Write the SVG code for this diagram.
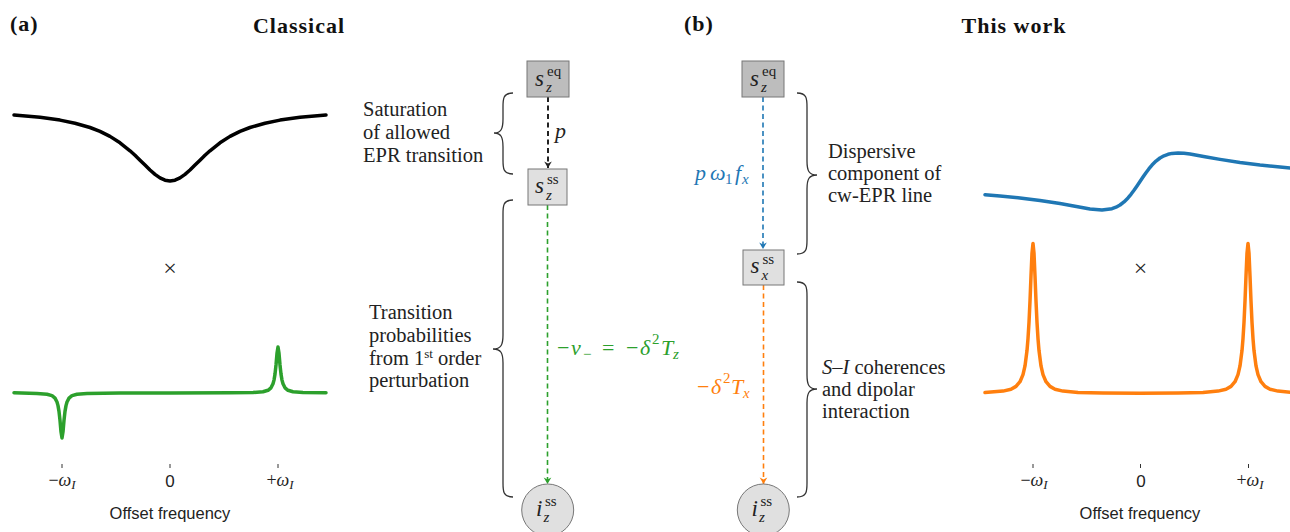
<svg xmlns="http://www.w3.org/2000/svg" width="1290" height="532" viewBox="0 0 1290 532">
  <style>
    text { font-family: "Liberation Serif", "Times New Roman", serif; fill: #222; }
    .title { font-size: 22px; font-weight: bold; letter-spacing: 1px; fill: #111; }
    .note { font-size: 20.5px; }
    .it { font-style: italic; }
    .sans { font-family: "Liberation Sans", Arial, sans-serif; }
    .tick { stroke: #333; stroke-width: 1; }
    .box-dark { fill: #bdbdbd; stroke: #777; stroke-width: 1; }
    .box-light { fill: #e0e0e0; stroke: #777; stroke-width: 1; }
    .brace { fill: none; stroke: #333; stroke-width: 1.3; }
    .curve { fill: none; stroke-width: 3.5; stroke-linejoin: round; stroke-linecap: round; }
    .conn { fill: none; stroke-dasharray: 5 3.5; }
    .lbl { font-size: 22px; }
  </style>
  <defs>
    <marker id="ah-black" markerUnits="userSpaceOnUse" markerWidth="10" markerHeight="10" viewBox="-7 -5 8 10" refX="0" refY="0" orient="auto">
      <path d="M0,0 L-6.5,-3.8 L-4.6,0 L-6.5,3.8 Z" fill="#222"/>
    </marker>
    <marker id="ah-green" markerUnits="userSpaceOnUse" markerWidth="10" markerHeight="10" viewBox="-7 -5 8 10" refX="0" refY="0" orient="auto">
      <path d="M0,0 L-6.5,-3.8 L-4.6,0 L-6.5,3.8 Z" fill="#2ca02c"/>
    </marker>
    <marker id="ah-blue" markerUnits="userSpaceOnUse" markerWidth="10" markerHeight="10" viewBox="-7 -5 8 10" refX="0" refY="0" orient="auto">
      <path d="M0,0 L-6.5,-3.8 L-4.6,0 L-6.5,3.8 Z" fill="#1f77b4"/>
    </marker>
    <marker id="ah-orange" markerUnits="userSpaceOnUse" markerWidth="10" markerHeight="10" viewBox="-7 -5 8 10" refX="0" refY="0" orient="auto">
      <path d="M0,0 L-6.5,-3.8 L-4.6,0 L-6.5,3.8 Z" fill="#ff7f0e"/>
    </marker>
  </defs>

  <rect width="1290" height="532" fill="#fff"/>

  <!-- panel titles -->
  <text class="title" x="10" y="31">(a)</text>
  <text class="title" x="299" y="33" text-anchor="middle">Classical</text>
  <text class="title" x="684" y="31">(b)</text>
  <text class="title" x="1014" y="33" text-anchor="middle">This work</text>

  <!-- left spectra: saturated EPR line times forbidden-transition lines -->
  <g id="plot-classical">
    <polyline class="curve" stroke="#000" stroke-width="3.2" points="14,115.0 40,117.3 60,120.1 75,123.2 90,127.5 100,131.4 110,136.4 120,142.8 130,150.8 135,155.3 140,160.2 145,165.1 150,170.0 155,174.3 160,177.9 165,180.2 170,181 175,180.2 180,177.9 185,174.3 190,170.0 195,165.1 200,160.2 205,155.3 210,150.8 220,142.8 230,136.4 240,131.4 250,127.5 265,123.2 280,120.1 300,117.3 326,115.0"/>
    <text x="170" y="276" text-anchor="middle" font-size="24">×</text>
    <polyline class="curve" stroke="#2ca02c" points="14,392.8 37,393.4 47,394.2 52,395.6 55,398.1 57,402 58,405.6 59,411.4 60,420.4 61,431.8 62,438 63,431.8 64,420.4 65,411.4 66,405.6 67,402 69,398.1 72,395.6 77,394.2 87,393.4 120,393.1 170,393 230,392.8 253,392.5 263,391.8 268,390.3 271,387.8 273,383.8 274,380.1 275,374.1 276,365 277,353.3 278,347 279,353.3 280,365 281,374.1 282,380.1 283,383.8 285,387.8 288,390.3 293,391.8 303,392.5 326,392.8"/>
    <line class="tick" x1="62" y1="464" x2="62" y2="468"/>
    <line class="tick" x1="170" y1="464" x2="170" y2="468"/>
    <line class="tick" x1="278" y1="464" x2="278" y2="468"/>
    <text x="62" y="486" text-anchor="middle" font-size="18">−<tspan class="it">ω</tspan><tspan class="it" font-size="13" dy="3">I</tspan></text>
    <text class="sans" x="170" y="487" text-anchor="middle" font-size="17">0</text>
    <text x="280" y="486" text-anchor="middle" font-size="18">+<tspan class="it">ω</tspan><tspan class="it" font-size="13" dy="3">I</tspan></text>
    <text class="sans" x="170" y="519" text-anchor="middle" font-size="16.5">Offset frequency</text>
  </g>

  <!-- right spectra: dispersive EPR line times S-I coherence lines -->
  <g id="plot-this-work">
    <polyline class="curve" stroke="#1f77b4" points="985,194.7 1000,195.9 1020,197.9 1040,200.4 1060,203.6 1075,206.3 1090,209.0 1102,210 1112,208.7 1116,207.2 1120,205.0 1124,201.9 1128,197.9 1131,194.3 1134,190.3 1137,186.0 1140,181.5 1143,177.0 1146,172.7 1149,168.7 1152,165.1 1156,161.1 1160,158.0 1164,155.8 1168,154.3 1172,153.4 1178,153.0 1184,153.3 1190,154.0 1205,156.7 1220,159.4 1240,162.6 1260,165.1 1280,167.1 1295,168.3"/>
    <text x="1140.5" y="276" text-anchor="middle" font-size="24">×</text>
    <polyline class="curve" stroke="#ff7f0e" points="985,392.6 1003,391.1 1011,389.2 1016,386.4 1020,381.7 1023,374.6 1025,365.9 1027,350.6 1028,338.6 1029,322.3 1030,301.1 1031,276.0 1032,253.2 1033,243.5 1034,253.2 1035,276.0 1036,301.1 1037,322.3 1038,338.6 1039,350.6 1041,365.9 1043,374.6 1046,381.7 1050,386.4 1055,389.2 1063,391.1 1078,392.4 1103,393.0 1140,393.2 1178,393.0 1203,392.4 1218,391.1 1226,389.2 1231,386.4 1235,381.7 1238,374.6 1240,365.9 1242,350.6 1243,338.6 1244,322.3 1245,301.1 1246,276.0 1247,253.2 1248,243.5 1249,253.2 1250,276.0 1251,301.1 1252,322.3 1253,338.6 1254,350.6 1256,365.9 1258,374.6 1261,381.7 1265,386.4 1270,389.2 1278,391.1 1295,392.6"/>
    <line class="tick" x1="1033" y1="464" x2="1033" y2="468"/>
    <line class="tick" x1="1140.5" y1="464" x2="1140.5" y2="468"/>
    <line class="tick" x1="1248.5" y1="464" x2="1248.5" y2="468"/>
    <text x="1034" y="486" text-anchor="middle" font-size="18">−<tspan class="it">ω</tspan><tspan class="it" font-size="13" dy="3">I</tspan></text>
    <text class="sans" x="1141" y="487" text-anchor="middle" font-size="17">0</text>
    <text x="1250" y="486" text-anchor="middle" font-size="18">+<tspan class="it">ω</tspan><tspan class="it" font-size="13" dy="3">I</tspan></text>
    <text class="sans" x="1140" y="519" text-anchor="middle" font-size="16.5">Offset frequency</text>
  </g>

  <!-- connectors -->
  <g id="connectors">
    <line class="conn" x1="548" y1="97" x2="548" y2="168" stroke="#222" stroke-width="2" marker-end="url(#ah-black)"/>
    <line class="conn" x1="547.5" y1="205" x2="547.5" y2="484" stroke="#2ca02c" stroke-width="1.6" marker-end="url(#ah-green)"/>
    <line class="conn" x1="763" y1="97" x2="763" y2="249" stroke="#1f77b4" stroke-width="1.6" marker-end="url(#ah-blue)"/>
    <line class="conn" x1="763.5" y1="285" x2="763.5" y2="484" stroke="#ff7f0e" stroke-width="1.6" marker-end="url(#ah-orange)"/>

    <text class="it lbl" x="555" y="138">p</text>
    <text class="lbl" style="fill:#2ca02c">
      <tspan x="557" y="355">−</tspan><tspan class="it" x="571" y="355">v</tspan><tspan x="583" y="359" font-size="15">−</tspan><tspan x="602" y="355">=</tspan><tspan x="626" y="355">−</tspan><tspan class="it" x="640" y="355">δ</tspan><tspan x="652" y="344" font-size="15">2</tspan><tspan class="it" x="661" y="355">T</tspan><tspan class="it" x="673" y="359" font-size="15">z</tspan>
    </text>
    <text class="lbl" style="fill:#1f77b4">
      <tspan class="it" x="695" y="180">p</tspan><tspan class="it" x="710" y="180">ω</tspan><tspan x="725" y="184" font-size="15">1</tspan><tspan class="it" x="735" y="180">f</tspan><tspan class="it" x="742" y="184" font-size="15">x</tspan>
    </text>
    <text class="lbl" style="fill:#ff7f0e">
      <tspan x="697" y="394">−</tspan><tspan class="it" x="711" y="394">δ</tspan><tspan x="723" y="383" font-size="15">2</tspan><tspan class="it" x="731" y="394">T</tspan><tspan class="it" x="743" y="398" font-size="15">x</tspan>
    </text>
  </g>

  <!-- braces and their annotations -->
  <g id="brace-saturation">
    <path class="brace" d="M513,93 C503,93 503,99 503,107 L503,119 C503,129 501,133 494,133 C501,133 503,137 503,147 L503,160 C503,168 503,174 513,174"/>
    <text class="note" x="363" y="116">Saturation</text>
    <text class="note" x="363" y="139">of allowed</text>
    <text class="note" x="363" y="162">EPR transition</text>
  </g>
  <g id="brace-transition">
    <path class="brace" d="M513,200 C503,200 503,206 503,214 L503,335 C503,345 501,349 493,349 C501,349 503,353 503,363 L503,483 C503,491 503,497 513,497"/>
    <text class="note" x="369" y="319">Transition</text>
    <text class="note" x="369" y="342">probabilities</text>
    <text class="note" x="369" y="365">from 1<tspan font-size="13" dy="-7">st</tspan><tspan dy="7"> order</tspan></text>
    <text class="note" x="369" y="387">perturbation</text>
  </g>
  <g id="brace-dispersive">
    <path class="brace" d="M797,93 C807,93 807,99 807,107 L807,161 C807,171 809,175 817,175 C809,175 807,179 807,189 L807,240 C807,248 807,254 797,254"/>
    <text class="note" x="828" y="158">Dispersive</text>
    <text class="note" x="828" y="180">component of</text>
    <text class="note" x="828" y="202">cw-EPR line</text>
  </g>
  <g id="brace-coherence">
    <path class="brace" d="M797,282 C807,282 807,288 807,296 L807,375 C807,385 809,389 817,389 C809,389 807,393 807,403 L807,483 C807,491 807,497 797,497"/>
    <text class="note" x="822" y="374"><tspan class="it">S</tspan>–<tspan class="it">I</tspan> coherences</text>
    <text class="note" x="822" y="396">and dipolar</text>
    <text class="note" x="822" y="418">interaction</text>
  </g>

  <!-- nodes, panel (a) -->
  <g id="node-sz-eq-a">
    <rect class="box-dark" x="527" y="61" width="42" height="36"/>
    <text font-size="23"><tspan class="it" x="535" y="86">s</tspan><tspan x="547" y="76" font-size="15">eq</tspan><tspan class="it" x="546" y="92" font-size="15">z</tspan></text>
  </g>
  <g id="node-sz-ss-a">
    <rect class="box-light" x="528" y="169" width="39" height="36"/>
    <text font-size="23"><tspan class="it" x="535" y="193">s</tspan><tspan x="547" y="184" font-size="15">ss</tspan><tspan class="it" x="546" y="200" font-size="15">z</tspan></text>
  </g>
  <g id="node-iz-ss-a">
    <circle class="box-light" cx="547.7" cy="510" r="26"/>
    <text font-size="23"><tspan class="it" x="536" y="516">i</tspan><tspan x="545" y="506" font-size="15">ss</tspan><tspan class="it" x="543.5" y="522" font-size="15">z</tspan></text>
  </g>

  <!-- nodes, panel (b) -->
  <g id="node-sz-eq-b">
    <rect class="box-dark" x="742" y="61" width="42" height="36"/>
    <text font-size="23"><tspan class="it" x="750" y="86">s</tspan><tspan x="762" y="76" font-size="15">eq</tspan><tspan class="it" x="761" y="92" font-size="15">z</tspan></text>
  </g>
  <g id="node-sx-ss-b">
    <rect class="box-light" x="743" y="250" width="41" height="35"/>
    <text font-size="23"><tspan class="it" x="750.5" y="273">s</tspan><tspan x="762.5" y="264" font-size="15">ss</tspan><tspan class="it" x="761.5" y="280" font-size="15">x</tspan></text>
  </g>
  <g id="node-iz-ss-b">
    <circle class="box-light" cx="763.3" cy="510" r="26"/>
    <text font-size="23"><tspan class="it" x="751.5" y="516">i</tspan><tspan x="760.5" y="506" font-size="15">ss</tspan><tspan class="it" x="759" y="522" font-size="15">z</tspan></text>
  </g>
</svg>
